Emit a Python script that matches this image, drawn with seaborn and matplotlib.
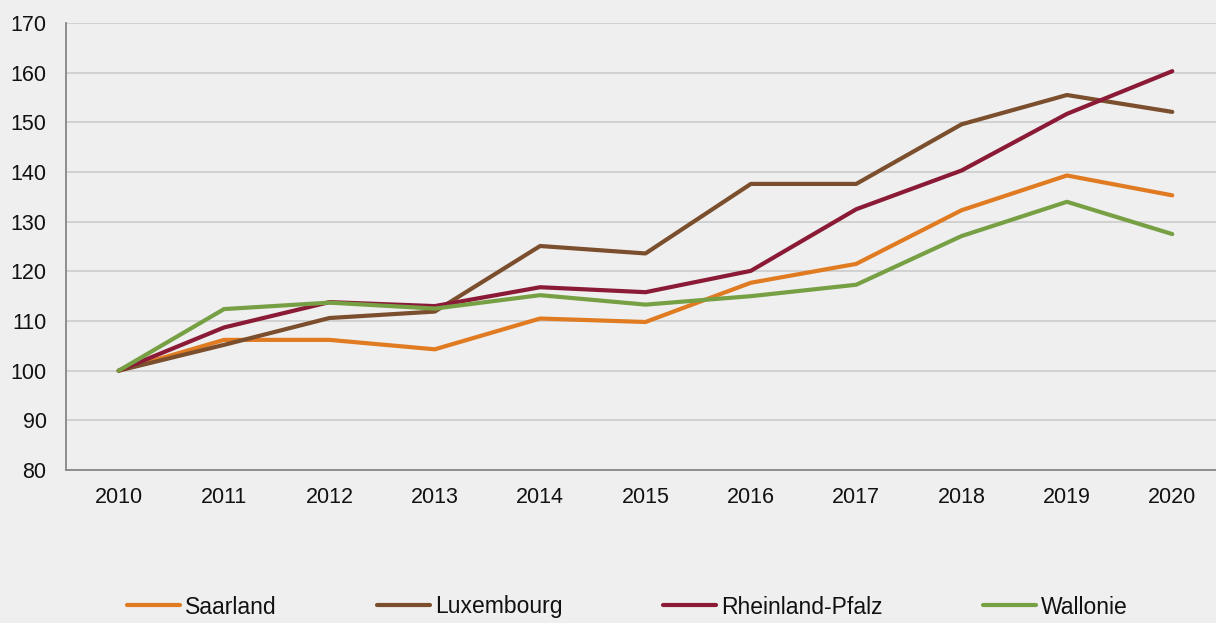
import pandas as pd
import seaborn as sns
import matplotlib.pyplot as plt
from matplotlib.ticker import MultipleLocator, FixedLocator

# Index values, 2010 = 100
years = [2010, 2011, 2012, 2013, 2014, 2015, 2016, 2017, 2018, 2019, 2020]
saarland = [100, 106.2, 106.2, 104.3, 110.5, 109.8, 117.7, 121.5, 132.3, 139.3, 135.3]
luxembourg = [100, 105.2, 110.6, 111.9, 125.1, 123.6, 137.6, 137.6, 149.6, 155.5, 152.1]
rheinland_pfalz = [100, 108.7, 113.8, 113.0, 116.8, 115.8, 120.1, 132.5, 140.3, 151.7, 160.3]
wallonie = [100, 112.4, 113.7, 112.5, 115.2, 113.3, 115.0, 117.3, 127.1, 134.0, 127.5]

regions = ['Saarland', 'Luxembourg', 'Rheinland-Pfalz', 'Wallonie']
colors = {'Saarland': '#E07B22', 'Luxembourg': '#7B4E2D',
          'Rheinland-Pfalz': '#8A1A36', 'Wallonie': '#77A045'}

# Build long-form table
df = pd.DataFrame({'year': years, 'Saarland': saarland, 'Luxembourg': luxembourg,
                   'Rheinland-Pfalz': rheinland_pfalz, 'Wallonie': wallonie})
long_df = df.melt(id_vars='year', var_name='region', value_name='value')

sns.set_style('white')
plt.rcParams['font.family'] = ['Liberation Sans', 'DejaVu Sans']

bg = '#EEEFEE'
fig = plt.figure(figsize=(12.16, 6.23), dpi=100, facecolor=bg)
ax = fig.add_axes([66 / 1216, 1 - 470 / 623, 1 - 66 / 1216, (470 - 23) / 623])
ax.set_facecolor(bg)

sns.lineplot(data=long_df, x='year', y='value', hue='region', hue_order=regions,
             palette=colors, linewidth=3, ax=ax, legend=False)

# Axis ranges and ticks
ax.set_ylim(80, 170)
ax.yaxis.set_major_locator(MultipleLocator(10))
ax.set_xlim(2009.5, 2020.415)
ax.xaxis.set_major_locator(FixedLocator(years))
ax.xaxis.set_minor_locator(FixedLocator([y - 0.5 for y in years] + [2020.5]))
ax.tick_params(axis='x', which='major', length=0, pad=12.5, labelsize=15.5, labelcolor='#111111')
ax.tick_params(axis='x', which='minor', length=5, width=1.2, color='#868686', direction='out')
ax.tick_params(axis='y', length=5, width=1.2, color='#868686', direction='out',
               pad=9, labelsize=15.5, labelcolor='#111111')
ax.set_xlabel('')
ax.set_ylabel('')

ax.grid(axis='y', color='#C8C8C8', linewidth=1.1)
ax.set_axisbelow(True)
for side in ['top', 'right']:
    ax.spines[side].set_visible(False)
for side in ['left', 'bottom']:
    ax.spines[side].set_color('#868686')
    ax.spines[side].set_linewidth(1.3)

# Legend along the bottom edge
handles = [plt.Line2D([], [], color=colors[r], linewidth=3) for r in regions]
fig.legend(handles, regions, ncol=4, loc='center left',
           bbox_to_anchor=(127 / 1216, 1 - 607 / 623), bbox_transform=fig.transFigure,
           frameon=False, fontsize=16.5, handlelength=2.3, handletextpad=0.22,
           columnspacing=4.4, borderpad=0, borderaxespad=0, labelcolor='#111111')

fig.savefig('out.png', dpi=100, facecolor=bg)
